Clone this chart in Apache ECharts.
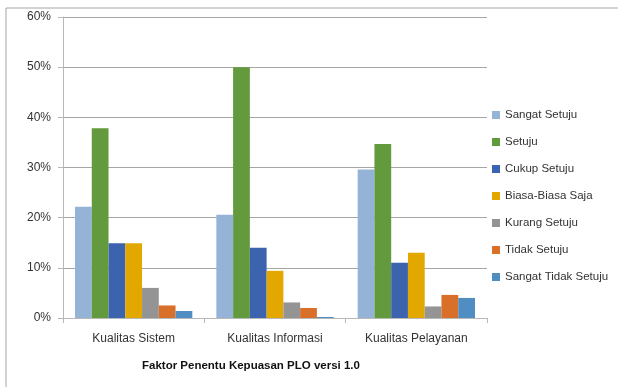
<!DOCTYPE html>
<html>
<head>
<meta charset="utf-8">
<script src="https://cdn.jsdelivr.net/npm/echarts@6/dist/echarts.min.js"></script>
<style>
html,body{margin:0;padding:0;background:#fff;}
#chart{width:618px;height:387px;}
</style>
</head>
<body>
<div id="chart"></div>
<script>
// kategori sumbu x
var categories = ['Kualitas Sistem', 'Kualitas Informasi', 'Kualitas Pelayanan'];
// nilai tiap seri (persen)
var sangatSetuju = [22.2, 20.6, 29.6];
var setuju = [37.8, 50.0, 34.7];
var cukupSetuju = [14.9, 14.0, 11.0];
var biasaSaja = [14.9, 9.4, 13.0];
var kurangSetuju = [6.0, 3.1, 2.3];
var tidakSetuju = [2.5, 2.0, 4.6];
var sangatTidakSetuju = [1.4, 0.2, 4.0];

var seriesNames = ['Sangat Setuju', 'Setuju', 'Cukup Setuju', 'Biasa-Biasa Saja', 'Kurang Setuju', 'Tidak Setuju', 'Sangat Tidak Setuju'];
var seriesData = [sangatSetuju, setuju, cukupSetuju, biasaSaja, kurangSetuju, tidakSetuju, sangatTidakSetuju];
var colors = ['#95b3d7', '#629a3d', '#3c64ae', '#e3a800', '#949494', '#d8702a', '#4f8dc3'];

var myChart = echarts.init(document.getElementById('chart'));

var series = [];
for (var i = 0; i < seriesNames.length; i++) {
  series.push({
    name: seriesNames[i],
    type: 'bar',
    barGap: '0%',
    barCategoryGap: '17%',
    itemStyle: { color: colors[i] },
    data: seriesData[i]
  });
}

var option = {
  animation: false,
  textStyle: { fontFamily: 'Liberation Sans' },
  grid: { left: 63, right: 131, top: 17, bottom: 69 },
  legend: {
    orient: 'vertical',
    left: 487,
    top: 104,
    itemWidth: 8,
    itemHeight: 8,
    itemGap: 15,
    icon: 'rect',
    textStyle: { fontSize: 11.5, color: '#333', fontFamily: 'Liberation Sans' },
    data: seriesNames
  },
  xAxis: {
    type: 'category',
    data: categories,
    axisLine: { lineStyle: { color: '#b8b8b8' } },
    axisTick: { show: true, length: 5, lineStyle: { color: '#b8b8b8' } },
    axisLabel: { fontSize: 12, color: '#333', margin: 15 }
  },
  yAxis: {
    type: 'value',
    min: 0,
    max: 60,
    interval: 10,
    axisLine: { show: true, lineStyle: { color: '#b8b8b8' } },
    axisTick: { show: true, length: 5, lineStyle: { color: '#b8b8b8' } },
    axisLabel: { fontSize: 12, color: '#333', margin: 12, formatter: '{value}%' },
    splitLine: { lineStyle: { color: '#a6a6a6' } }
  },
  graphic: [
    { type: 'line', shape: { x1: 6, y1: 8, x2: 618, y2: 8 }, style: { stroke: '#a6a6a6', lineWidth: 1 } },
    { type: 'line', shape: { x1: 6, y1: 8, x2: 6, y2: 387 }, style: { stroke: '#a6a6a6', lineWidth: 1 } },
    {
      type: 'text',
      left: 142,
      top: 360,
      style: {
        text: 'Faktor Penentu Kepuasan PLO versi 1.0',
        font: 'bold 11.5px "Liberation Sans"',
        fill: '#111'
      }
    }
  ],
  series: series
};
myChart.setOption(option);
</script>
</body>
</html>
